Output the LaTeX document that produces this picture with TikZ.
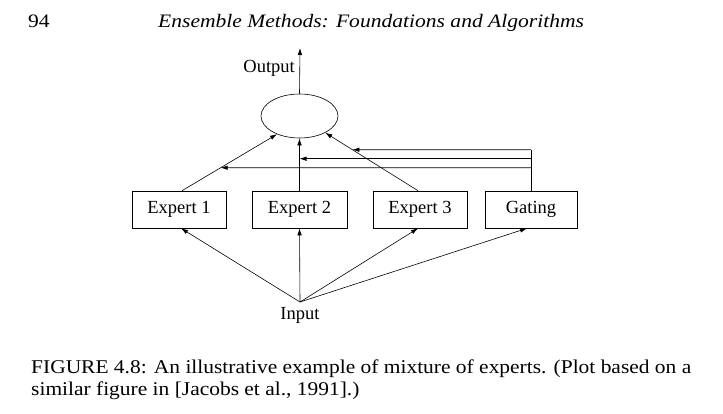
\documentclass[tikz,border=0pt]{standalone}
\usepackage{fontspec}
\setmainfont{Liberation Serif}
\newfontfamily\capfont[FakeStretch=1.10]{Liberation Serif}
\newfontfamily\ttlfont[FakeStretch=1.135]{Liberation Serif}
\usetikzlibrary{shapes.geometric,arrows.meta,calc}
\begin{document}
\begin{tikzpicture}[x=1pt,y=-1pt,
  box/.style={draw,line width=0.6pt,minimum width=94pt,minimum height=37pt,inner sep=0pt,font=\fontsize{18.5}{21}\selectfont},
  lbl/.style={inner sep=0pt,font=\fontsize{18.5}{21}\selectfont},
  arr/.style={line width=0.6pt,-{Latex[length=7pt,width=4.5pt]}},
  wire/.style={line width=0.6pt}]
\useasboundingbox (0,0) rectangle (723,413);
% header
\node[anchor=base west,inner sep=0pt,font=\ttlfont\fontsize{19}{22}\selectfont] (pg) at (28,27) {94};
\node[anchor=base west,inner sep=0pt,font=\ttlfont\fontsize{19}{22}\selectfont\itshape] (ttl) at (158,27) {Ensemble Methods: Foundations and Algorithms};
% diagram
\node[draw,ellipse,line width=0.6pt,minimum width=77pt,minimum height=44pt,inner sep=0pt] (ell) at (299.5,116) {};
\node[box] (e1) at (179,209.5) {Expert 1};
\node[box,minimum width=95pt] (e2) at (299.5,209.5) {Expert 2};
\node[box] (e3) at (420,209.5) {Expert 3};
\node[box,minimum width=92pt] (g) at (531,209.5) {Gating};
\coordinate (in) at (300,302);
\node[lbl,anchor=north] (inl) at (300,307) {Input};
\coordinate (out) at (300,48);
\node[lbl,anchor=east] (outl) at (295,68) {Output};
% inputs
\draw[arr] (in) -- ([xshift=2pt]e1.south);
\draw[arr] (in) -- (e2.south);
\draw[arr] (in) -- ([xshift=-2pt]e3.south);
\draw[arr] (in) -- ([xshift=-4pt]g.south);
% experts to output
\coordinate (a1) at (ell.219);
\coordinate (a3) at (ell.327);
\coordinate (s1) at ([xshift=3pt]e1.north);
\coordinate (s3) at ([xshift=-2pt]e3.north);
\draw[arr] (s1) -- (a1);
\draw[arr] (e2.north) -- (ell.south);
\draw[arr] (s3) -- (a3);
\draw[arr] (ell.north) -- (out);
% gating
\coordinate (g1) at ([yshift=23pt]g.north);
\coordinate (g2) at ([yshift=32pt]g.north);
\coordinate (g3) at ([yshift=41pt]g.north);
\coordinate (g1l) at (g1 -| e1.west);
\coordinate (g3l) at (g3 -| e1.west);
\draw[wire] (g.north) -- (g3);
\draw[arr] (g1) -- (intersection of g1--g1l and s1--a1);
\draw[arr] (g2) -- (g2 -| e2.north);
\draw[arr] (g3) -- (intersection of g3--g3l and s3--a3);
% caption
\node[anchor=base west,inner sep=0pt,font=\capfont\fontsize{19.5}{22}\selectfont] (cap1) at (31,373) {FIGURE 4.8: An illustrative example of mixture of experts. (Plot based on a};
\node[anchor=base west,inner sep=0pt,font=\capfont\fontsize{19.5}{22}\selectfont] (cap2) at (31,395) {similar figure in [Jacobs et al., 1991].)};
\end{tikzpicture}
\end{document}
